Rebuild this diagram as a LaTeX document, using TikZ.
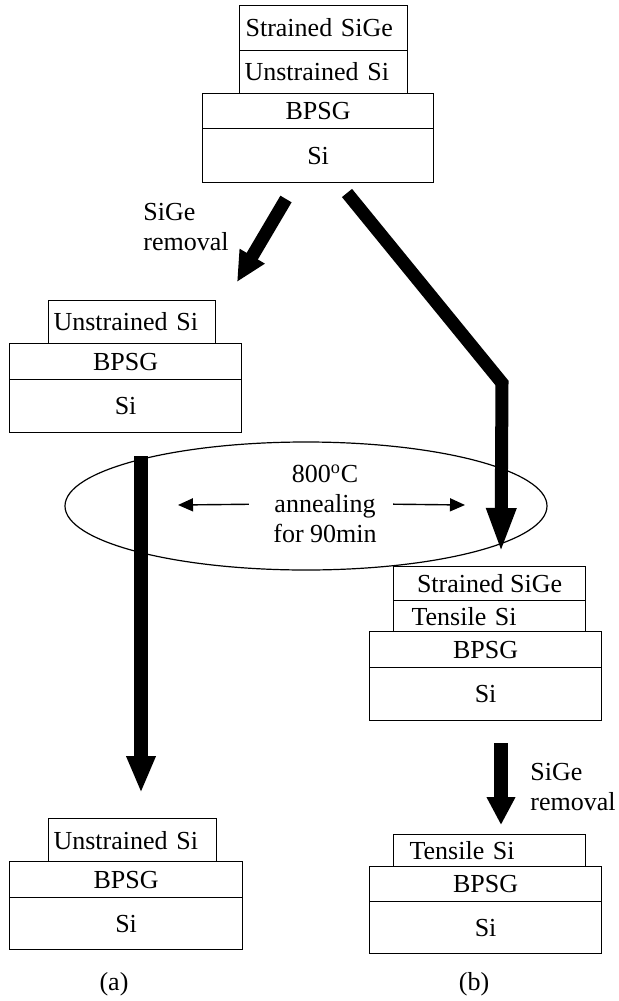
\documentclass[tikz,border=0pt]{standalone}
\usepackage{fontspec}
\setmainfont{Liberation Serif}
\usepackage{tikz}
\usetikzlibrary{arrows.meta, shapes.geometric, positioning}

\tikzset{
  layer/.style 2 args={draw=black, line width=0.6pt, inner sep=0pt, anchor=north west,
    minimum width=#1, minimum height=#2},
  lefttext/.style 2 args={align=left, inner xsep=#1, text width=#2},
  bigarrow/.style={line width=7pt, -{Triangle[length=#1, width=13.5pt]}},
  thinarrow/.style={line width=0.7pt, -{Triangle[length=7.5pt, width=6.5pt]}},
}

\begin{document}
\begin{tikzpicture}[x=0.5pt, y=-0.5pt, font=\fontsize{13pt}{15pt}\selectfont]
    \useasboundingbox (0,0) rectangle (618,1001);

    % starting wafer
    \node[layer={84pt}{22.5pt}, lefttext={3pt}{78pt}] (topsige) at (239,5) {Strained SiGe};
    \node[layer={84pt}{21.5pt}, lefttext={2.5pt}{79pt}] (topsi) at (239,50) {Unstrained Si};
    \node[layer={115.5pt}{17.5pt}] (topbpsg) at (202,93) {BPSG};
    \node[layer={115.5pt}{27pt}] (topsub) at (202,128) {Si};

    % after SiGe removal
    \node[layer={83.5pt}{21.5pt}, lefttext={2.5pt}{78.5pt}] (lmsi) at (48,300) {Unstrained Si};
    \node[layer={116pt}{18pt}] (lmbpsg) at (9,343) {BPSG};
    \node[layer={116pt}{26.5pt}] (lmsub) at (9,379) {Si};

    % annealed with SiGe on top
    \node[layer={96pt}{17pt}] (rmsige) at (393,566) {Strained SiGe};
    \node[layer={96pt}{15.5pt}, lefttext={9pt}{78pt}] (rmsi) at (393,600) {Tensile Si};
    \node[layer={116pt}{18pt}] (rmbpsg) at (369,631) {BPSG};
    \node[layer={116pt}{26.5pt}] (rmsub) at (369,667) {Si};

    % result (a)
    \node[layer={84pt}{21.5pt}, lefttext={2.5pt}{79pt}] (blsi) at (48,818) {Unstrained Si};
    \node[layer={116.5pt}{18pt}] (blbpsg) at (9,861) {BPSG};
    \node[layer={116.5pt}{26pt}] (blsub) at (9,897) {Si};

    % result (b)
    \node[layer={96pt}{16pt}, lefttext={8pt}{80pt}] (brsi) at (393,834) {Tensile Si};
    \node[layer={116pt}{17.5pt}] (brbpsg) at (369,866) {BPSG};
    \node[layer={116pt}{26pt}] (brsub) at (369,901) {Si};

    % anneal step
    \node[draw=black, line width=0.6pt, ellipse, inner sep=0pt,
          minimum width=241pt, minimum height=64pt] (oven) at (306,506) {};
    \node[align=center, inner sep=0pt] (anneal) at (325,504) {800\textsuperscript{o}C\\annealing\\for 90min};
    \coordinate (lhead) at (178,505);
    \coordinate (rhead) at (465,505);
    \draw[thinarrow, shorten <=12pt] (anneal.west) -- (lhead);
    \draw[thinarrow, shorten <=8pt] (anneal.east) -- (rhead);

    % process arrows
    \coordinate (etchtail) at (286,199);
    \coordinate (etchtip) at (237,282);
    \draw[bigarrow=15pt, line width=6.5pt] (etchtail) -- (etchtip);
    \node[align=left, anchor=west, inner sep=0pt] (etchlabel) at (143,227) {SiGe\\removal};

    \coordinate (hottail) at (347,193);
    \coordinate (hotbend) at (502,383);
    \coordinate (hottip) at (501,553);
    \draw[bigarrow=22.5pt, line width=6.5pt] (hottail) -- (hotbend) -- (hottip);

    \coordinate (coldtail) at (141,456);
    \coordinate (coldtip) at (141,793);
    \draw[bigarrow=18.5pt] (coldtail) -- (coldtip);

    \coordinate (striptail) at (501,743);
    \coordinate (striptip) at (501,825);
    \draw[bigarrow=14pt] (striptail) -- (striptip);
    \node[align=left, anchor=west, inner sep=0pt] (striplabel) at (530,787) {SiGe\\removal};

    \node (capa) at (114,984) {(a)};
    \node (capb) at (474,984) {(b)};
\end{tikzpicture}
\end{document}
